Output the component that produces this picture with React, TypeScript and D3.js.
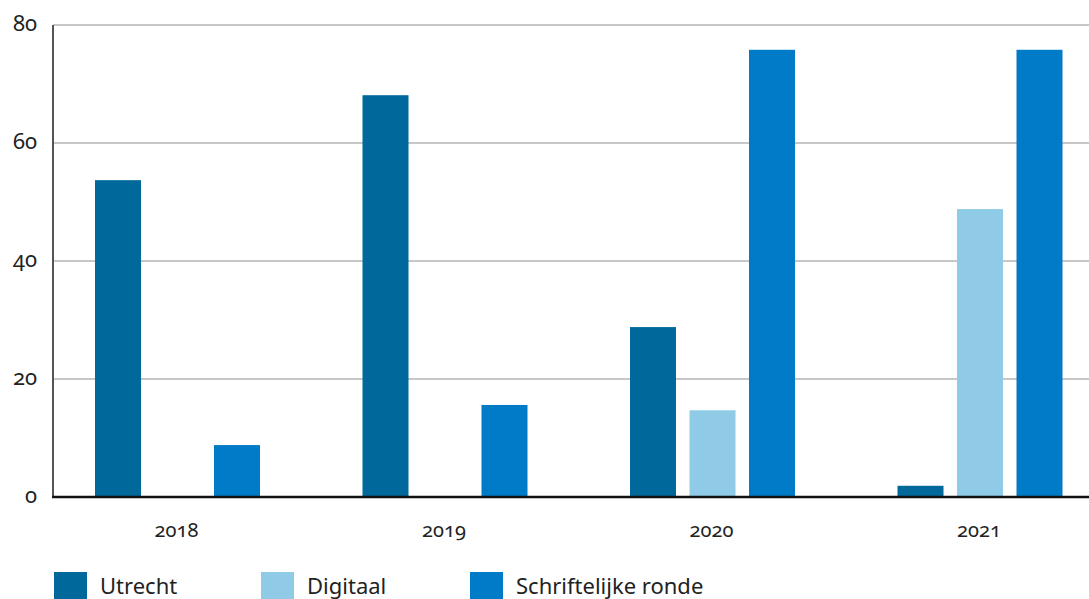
import React from "react";
import * as d3 from "d3";

const years = ["2018", "2019", "2020", "2021"];
const seriesKeys = ["Utrecht", "Digitaal", "Schriftelijke ronde"];
const utrecht = [53.7, 68.1, 28.8, 1.9];
const digitaal = [0, 0, 14.7, 48.8];
const schriftelijk = [8.8, 15.6, 75.8, 75.8];
const yTicks = [0, 20, 40, 60, 80];
const colors = ["#01689B", "#8FCAE7", "#007BC7"];

const W = 1089;
const H = 599;
const FONT = "'Noto Sans', 'Open Sans', sans-serif";

export default function App() {
  const series = [utrecht, digitaal, schriftelijk];
  const y = d3.scaleLinear().domain([0, 80]).range([497, 25]);
  const x0 = d3.scaleBand<string>().domain(years).range([42.75, 42.75 + 267.5 * 4]);
  const x1 = d3
    .scaleBand<string>()
    .domain(seriesKeys)
    .range([52.25, 52.25 + 165])
    .paddingInner(13.5 / 59.5)
    .paddingOuter(0);

  const legendX = [54, 261, 470];

  return (
    <svg
      width={W}
      height={H}
      style={{ position: "absolute", left: 0, top: 0, display: "block" }}
      fontFamily={FONT}
    >
      {yTicks.slice(1).map((t) => (
        <line key={t} x1={53} x2={W} y1={y(t)} y2={y(t)} stroke="#b4b4b4" strokeWidth={1.5} />
      ))}
      {yTicks.map((t) => (
        <text
          key={"l" + t}
          x={37}
          y={y(t)}
          dy="0.25em"
          textAnchor="end"
          fontSize={22}
          fill="#222"
          style={{ fontVariantNumeric: "oldstyle-nums" }}
        >
          {t}
        </text>
      ))}
      {years.map((yr, i) =>
        seriesKeys.map((k, j) => {
          const v = series[j][i];
          if (!v) return null;
          return (
            <rect
              key={yr + k}
              x={(x0(yr) as number) + (x1(k) as number)}
              y={y(v)}
              width={x1.bandwidth()}
              height={y(0) - y(v)}
              fill={colors[j]}
            />
          );
        })
      )}
      <line x1={53} x2={53} y1={y(80)} y2={y(0)} stroke="#555" strokeWidth={2} />
      <line x1={52} x2={W} y1={y(0)} y2={y(0)} stroke="#111" strokeWidth={2.5} />
      {years.map((yr) => (
        <text
          key={"x" + yr}
          x={(x0(yr) as number) + x0.bandwidth() / 2}
          y={537}
          textAnchor="middle"
          fontSize={20}
          fill="#222"
          style={{ fontVariantNumeric: "oldstyle-nums" }}
        >
          {yr}
        </text>
      ))}
      {seriesKeys.map((k, j) => (
        <g key={"lg" + k}>
          <rect x={legendX[j]} y={572} width={33} height={27} fill={colors[j]} />
          <text x={legendX[j] + 46} y={594} fontSize={22} fill="#222">
            {k}
          </text>
        </g>
      ))}
    </svg>
  );
}
